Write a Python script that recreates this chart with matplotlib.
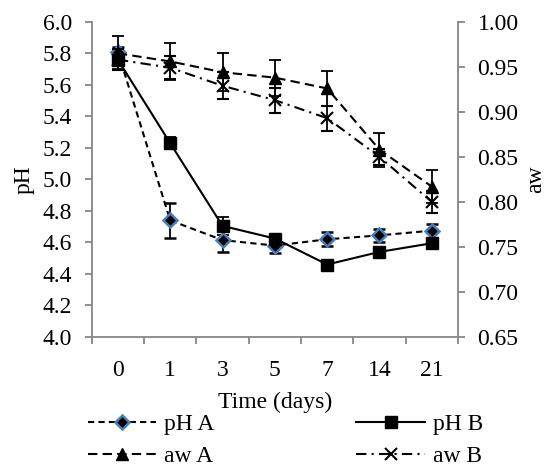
import numpy as np
import matplotlib.pyplot as plt

plt.rcParams['font.family'] = ['Liberation Serif', 'DejaVu Serif']
plt.rcParams['font.size'] = 17

# Data
days = ['0', '1', '3', '5', '7', '14', '21']
ph_a = [5.81, 4.74, 4.615, 4.58, 4.62, 4.645, 4.675]
ph_a_err = [0.03, 0.11, 0.075, 0.05, 0.045, 0.04, 0.045]
ph_b = [5.76, 5.23, 4.705, 4.625, 4.46, 4.54, 4.595]
ph_b_err = [0.06, 0.04, 0.055, 0.02, 0.02, 0.02, 0.02]
aw_a = [0.965, 0.956, 0.944, 0.938, 0.926, 0.858, 0.817]
aw_a_err = [0.019, 0.021, 0.021, 0.02, 0.019, 0.019, 0.018]
aw_b = [0.958, 0.949, 0.929, 0.913, 0.893, 0.850, 0.800]
aw_b_err = [0.012, 0.013, 0.015, 0.014, 0.014, 0.009, 0.012]

x = np.arange(len(days))
grey = '#868686'

fig = plt.figure(figsize=(5.5, 4.74), dpi=100)
ax = fig.add_axes([0.1667, 0.289, 0.666, 0.665])
ax2 = ax.twinx()

eb = dict(ecolor='black', elinewidth=1.3, capsize=4.5, capthick=1.3)

h1 = ax.errorbar(x, ph_a, yerr=ph_a_err, color='black', lw=1.5, ls=(0, (3, 2)),
                 marker='D', ms=7.5, mfc='black', mec='#4a7ebb', mew=1.8, **eb)
h3 = ax.errorbar(x, ph_b, yerr=ph_b_err, color='black', lw=1.5, ls='-',
                 marker='s', ms=8.5, mfc='black', mec='black', **eb)
h2 = ax2.errorbar(x, aw_a, yerr=aw_a_err, color='black', lw=1.5, ls=(0, (4.5, 2.5)),
                  marker='^', ms=8.5, mfc='black', mec='black', **eb)
h4 = ax2.errorbar(x, aw_b, yerr=aw_b_err, color='black', lw=1.5, ls=(0, (5, 2.5, 1, 2.5)),
                  marker='x', ms=8.5, mew=1.5, mec='black', **eb)

ax.set_xlim(-0.5, len(days) - 0.5)
ax.set_ylim(4.0, 6.0)
yt = np.arange(4.0, 6.01, 0.2)
ax.set_yticks(yt)
ax.set_yticklabels([f'{v:.1f}' for v in yt])
ax.set_xticks(x)
ax.set_xticklabels(days)
ax.set_xticks(np.arange(-0.5, len(days), 1), minor=True)
ax.tick_params(axis='x', which='major', length=0, pad=16.5)
ax.tick_params(axis='x', which='minor', length=5, color=grey, width=1.3)
ax.tick_params(axis='y', length=5, color=grey, width=1.3, pad=9)

ax2.set_ylim(0.65, 1.0)
yt2 = np.arange(0.65, 1.001, 0.05)
ax2.set_yticks(yt2)
ax2.set_yticklabels([f'{v:.2f}' for v in yt2])
ax2.tick_params(axis='y', length=5, color=grey, width=1.3, pad=9)

for a in (ax, ax2):
    a.spines['top'].set_visible(False)
    for side in ('left', 'right', 'bottom'):
        a.spines[side].set_color(grey)
        a.spines[side].set_linewidth(1.3)
ax.spines['right'].set_visible(False)
ax2.spines['left'].set_visible(False)
ax2.spines['bottom'].set_visible(False)

ax.set_xlabel('Time (days)', labelpad=8)
ax.set_ylabel('pH', labelpad=6)
ax2.set_ylabel('aw', labelpad=5)

fig.legend([h1[0], h2[0], h3[0], h4[0]], ['pH A', 'aw A', 'pH B', 'aw B'],
           loc='lower center', bbox_to_anchor=(0.519, -0.03), ncol=2,
           frameon=False, handlelength=2.9, columnspacing=6, labelspacing=0.45,
           handletextpad=0.35)

fig.savefig('out.png', dpi=100)
